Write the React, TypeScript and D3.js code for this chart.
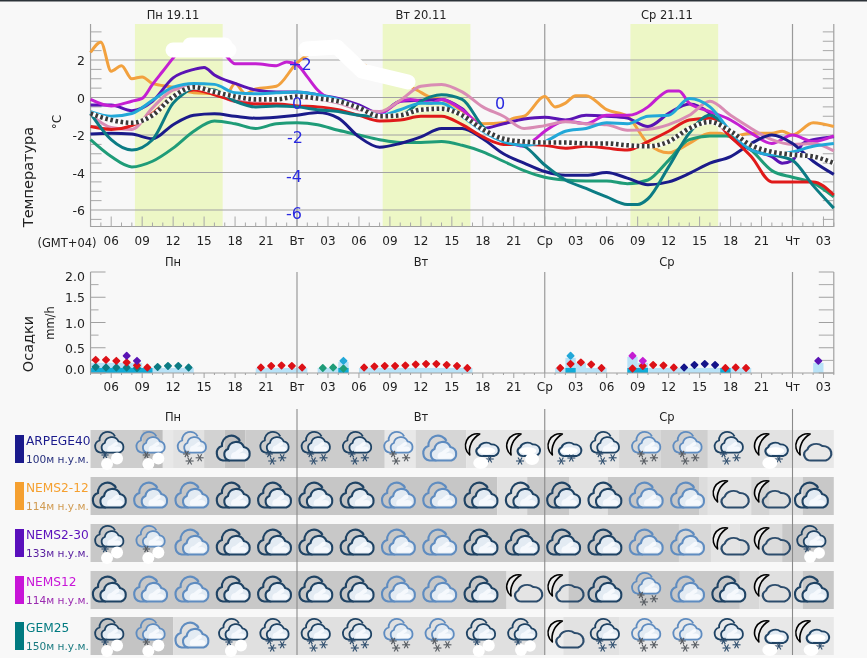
import React from "react";
import * as d3 from "d3";

type P = [number, number];
const evenHours = d3.range(4, 77, 2);
const zip = (vals: number[]): P[] => vals.map((v, i) => [evenHours[i], v]);

// ---------- temperature series (°C) ----------
const navyTemps = [-1.95,-1.9,-1.95,-2.2,-1.45,-0.95,-0.87,-1,-1.1,-1.05,-0.95,-0.8,-1.1,-2.1,-2.65,-2.45,-2.1,-1.65,-1.65,-2.2,-3,-3.5,-3.95,-4.15,-4.15,-4,-4.3,-4.65,-4.5,-4.05,-3.5,-3.15,-2.45,-2,-2.45,-3.4,-4.1];
const orangePts: P[] = [[4,2.4],[5,2.95],[6,1.4],[7,1.7],[8,1],[9,1.1],[10,0.75],[12,0.55],[14,0.25],[16,0.2],[17,0],[18,0.75],[19,0.2],[20,0.45],[22,0.6],[24,1.85],[25,2.25],[27,2.6],[31,1.6],[35.6,0.4],[37,0],[38,-0.1],[40,-0.7],[42,-1.4],[44,-1.35],[45,-1.1],[46,-1],[48,0.05],[49,-0.5],[50,-0.3],[51,0.1],[52,0.1],[54,-0.65],[56,-1],[58,-2.45],[60,-2.95],[62,-2.45],[64,-1.9],[65,-1.9],[66,-2.1],[68,-1.9],[70,-1.9],[71,-1.8],[72,-2],[74,-1.35],[76,-1.55]];
const magentaPts: P[] = [[4,-0.1],[6,-0.45],[8,-0.2],[9,-0.05],[10,0.7],[11,1.4],[12,2.1],[13,2.75],[15,2.9],[17,2.3],[18,1.8],[20,1.8],[22,1.7],[23,1.9],[24,1.75],[25,1.1],[26,0.4],[27,0],[28,-0.1],[30,-0.5],[32,-0.85],[34,-0.2],[35,-0.1],[37,-0.3],[38,-0.1],[40,-0.65],[42,-1.65],[44,-2.25],[46,-2.6],[47,-2.25],[48,-1.8],[50,-1.25],[52,-1.4],[54,-0.95],[56,-0.95],[58,-0.5],[59,0],[60,0.35],[61,0.35],[62,-0.3],[64,-0.75],[66,-1.2],[68,-1.9],[70,-2.45],[72,-2],[74,-2.35],[76,-2.05]];
const purplePts: P[] = [[4,-0.4],[6,-0.4],[8,-0.7],[10,-0.2],[12,1.05],[14,1.5],[15,1.6],[16,1.2],[18,0.75],[20,0.4],[22,0.3],[24,0.3],[26,0.15],[28,-0.05],[30,-0.4],[32,-0.85],[34,-0.2],[36,-0.15],[38,-0.1],[40,-0.6],[42,-1.65],[44,-1.4],[46,-1.15],[48,-1.05],[50,-1.2],[52,-0.95],[54,-1],[56,-1.1],[58,-1.55],[60,-0.85],[62,-0.35],[64,-0.85],[66,-2.1],[68,-2.8],[70,-3.15],[71,-3.5],[72,-3.35],[73,-2.45],[74,-2.25],[76,-2.1]];
const skyTemps = [-0.75,-1,-0.85,-0.15,0.55,0.75,0.7,0.25,0.2,0.25,0.3,0.15,-0.1,-0.5,-0.95,-0.65,-0.3,-0.3,-1,-1.8,-2.35,-2.55,-2.35,-1.8,-1.65,-1.35,-1.4,-1,-0.95,-0.05,-0.5,-1.8,-2.8,-3.05,-2.9,-2.6,-2.45];
const redTemps = [-1.55,-1.7,-1.5,-0.85,0.05,0.4,0.15,-0.2,-0.35,-0.35,-0.45,-0.5,-0.65,-0.95,-1.25,-1.2,-1,-1,-1.45,-2.1,-2.5,-2.5,-2.55,-2.7,-2.6,-2.7,-2.8,-2.35,-1.8,-1.2,-1.1,-2.1,-3.15,-4.5,-4.5,-4.5,-5.2];
const pinkTemps = [-0.9,-1.6,-1.7,-0.55,0.4,0.6,0.3,-0.2,-0.2,-0.1,0,-0.1,-0.3,-0.65,-0.75,-0.15,0.6,0.7,0.3,-0.5,-1,-1.65,-1.5,-1.3,-1.4,-1.45,-1.75,-1.7,-1.45,-0.95,-0.2,-0.95,-1.65,-2.25,-2.5,-2.45,-2.85];
const greenTemps = [-2.25,-3.15,-3.7,-3.4,-2.7,-1.8,-1.25,-1.4,-1.65,-1.4,-1.35,-1.45,-1.75,-2,-2.25,-2.4,-2.4,-2.35,-2.55,-2.9,-3.4,-3.9,-4.25,-4.4,-4.45,-4.45,-4.6,-4.4,-3.35,-2.25,-2.05,-2.05,-2.8,-3.9,-4.25,-4.55,-5.3];
const tealPts: P[] = [[4,-0.85],[6,-2.25],[8,-2.8],[10,-2.25],[12,-0.3],[13,0.2],[14,0.5],[16,0.4],[18,-0.2],[20,-0.5],[22,-0.45],[24,-0.5],[26,-0.65],[28,-0.75],[30,-0.95],[32,-1],[34,-0.95],[36,-0.2],[37,0.05],[38,0.15],[40,-0.1],[42,-1.55],[44,-2.35],[46,-2.6],[48,-3.6],[50,-4.4],[52,-4.85],[54,-5.3],[56,-5.7],[57,-5.7],[58,-5.4],[60,-3.7],[62,-1.9],[64,-0.95],[66,-1.8],[68,-2.8],[70,-3.05],[72,-3.35],[74,-4.7],[76,-5.9]];
const meanTemps = [-0.85,-1.2,-1.35,-0.95,0.05,0.55,0.3,0.05,-0.1,-0.1,0.05,-0.05,-0.2,-0.55,-1,-0.95,-0.65,-0.6,-0.95,-1.7,-2.2,-2.35,-2.4,-2.4,-2.45,-2.45,-2.55,-2.6,-2.35,-1.65,-1.3,-1.8,-2.55,-2.9,-3.05,-3.15,-3.5];

const tempSeries: { pts: P[]; color: string }[] = [
  { pts: orangePts, color: "#f2a13e" },
  { pts: purplePts, color: "#5a14b4" },
  { pts: magentaPts, color: "#c41fd2" },
  { pts: zip(pinkTemps), color: "#d98cb4" },
  { pts: zip(greenTemps), color: "#1f9c78" },
  { pts: zip(navyTemps), color: "#1b1b8a" },
  { pts: zip(redTemps), color: "#e01a1a" },
  { pts: tealPts, color: "#0c7c84" },
  { pts: zip(skyTemps), color: "#22a8d8" },
];

// ---------- precipitation ----------
const lightBars: [number, number, number][] = [[4,9,0.2],[9,14,0.1],[20,25,0.1],[26,28,0.1],[28,29,0.22],[30,41,0.1],[49,50,0.1],[50,51,0.3],[51,52,0.2],[52,54,0.1],[56,57,0.32],[57,58,0.2],[58,68,0.1],[74,75,0.2]];
const darkBars: [number, number, number][] = [[4,10,0.1],[28,29,0.1],[50,51,0.1],[56,58,0.1],[65,66,0.1]];
const redDots: P[] = [[4.5,.26],[5.5,.26],[6.5,.24],[7.5,.21],[8.5,.15],[9.5,.11],[20.5,.11],[21.5,.14],[22.5,.15],[23.5,.14],[24.5,.11],[30.5,.11],[31.5,.13],[32.5,.14],[33.5,.14],[34.5,.15],[35.5,.17],[36.5,.18],[37.5,.18],[38.5,.16],[39.5,.14],[40.5,.1],[49.5,.1],[50.5,.18],[51.5,.21],[52.5,.17],[53.5,.1],[56.5,.09],[57.5,.14],[58.5,.16],[59.5,.15],[60.5,.11],[65.5,.1],[66.5,.11],[67.5,.1]];
const tealDots: P[] = [[4.5,.12],[5.5,.11],[6.5,.11],[7.5,.11],[8.5,.1],[10.5,.12],[11.5,.14],[12.5,.14],[13.5,.11]];
const purpleDots: P[] = [[7.5,.34],[8.5,.24],[74.5,.24]];
const greenDots: P[] = [[26.5,.1],[27.5,.11],[28.5,.09]];
const skyDots: P[] = [[28.5,.24],[50.5,.34]];
const magentaDots: P[] = [[56.5,.34],[57.5,.24]];
const navyDots: P[] = [[61.5,.11],[62.5,.16],[63.5,.18],[64.5,.16]];

// ---------- meteogram rows ----------
const rowNames = ["ARPEGE40", "NEMS2-12", "NEMS2-30", "NEMS12", "GEM25"];
const rowHeights = ["100м н.у.м.", "114м н.у.м.", "133м н.у.м.", "114м н.у.м.", "150м н.у.м."];
const rowColors = ["#1a1a8c", "#f5a030", "#5a10bc", "#c815d8", "#007a80"];
const rowSubColors = ["#27307e", "#d09a50", "#5a20a0", "#9a2ab0", "#1a7a80"];
// icon codes: D dark cloud, M mid cloud, s with snow, b snow under white patches,
// n moon with bare cloud, ns moon + snow, nb / nr moon + snow + white patch
const rowIcons = [
  ["Db","Mb","Ms","D","Ds","Ds","Ds","Ms","M","nb","nr","ns","Ds","Ms","Ms","Ds","nb","n"],
  ["D","M","M","D","D","D","D","M","M","D","D","D","D","M","M","n","n","D"],
  ["Db","Mb","M","D","D","D","D","M","M","D","D","D","D","M","M","n","n","Dc"],
  ["D","M","M","D","D","D","D","M","M","D","n","n","D","Ms","M","D","n","D"],
  ["Db","Mb","M","Db","Ds","Ds","Ds","Ms","Ms","Db","Dc","n","Ds","Ms","Ms","Ds","nb","nb"],
];
// shading cells: hour where each grey starts, and its grey level
const rowShades: P[][] = [
  [[4,205],[9,190],[11,232],[12,226],[15,210],[17,192],[19,204],[32.5,232],[35.5,214],[40.4,230],[55.2,216],[59.2,207],[63.8,226],[72,232]],
  [[4,198],[43.4,224],[46.3,200],[50.4,224],[54.1,200],[63,220],[63.8,228],[68,212],[69.8,224],[73,200]],
  [[4,200],[61,216],[64.1,228],[66.9,220],[71,200]],
  [[4,200],[44.3,228],[50.3,200],[66.9,216],[68.8,224],[73,200]],
  [[4,196],[12,224],[48,238],[49.8,226],[55.2,232]],
];

const rowTops = [430, 477, 524, 571, 617];
const rowH = 38;

// ---------- scales ----------
const x = d3.scaleLinear().domain([24, 72]).range([297, 792.5]);
const yT = d3.scaleLinear().domain([2, -6]).range([60, 210]);
const yP = d3.scaleLinear().domain([0, 2]).range([373, 272]);
const x0 = x(4), x1 = x(76);
const tempTop = 24, tempBottom = 226.5;

const hourTicks = d3.range(4, 77);
const labelledHours = d3.range(6, 76, 3);
const hourLabel = (h: number) => {
  if (h === 24) return "Вт";
  if (h === 48) return "Ср";
  if (h === 72) return "Чт";
  return d3.format("02")(h % 24);
};
const tempGrid = [2, 0, -2, -4, -6];
const tempMinor = d3.range(-6.5, 4, 0.5).filter((v) => !tempGrid.includes(v));
const precipMajor = [0, 0.5, 1, 1.5, 2];
const precipMinor = [0.25, 0.75, 1.25, 1.75];
const dayLines = [24, 48, 72];
const dayBands: P[] = [[8.3, 16.8], [32.3, 40.8], [56.3, 64.8]];
const dayTitles: [string, string, number][] = [["Пн 19.11", "Пн", 173], ["Вт 20.11", "Вт", 421], ["Ср 21.11", "Ср", 667]];
const overlayLabels: [string, number, number][] = [["+2", 300, 70], ["0", 297, 109], ["-2", 295, 143], ["-4", 294, 182], ["-6", 294, 219], ["0", 500, 109]];

const lineGen = d3.line<P>().x((d) => x(d[0])).y((d) => yT(d[1])).curve(d3.curveMonotoneX);
const dotShape = d3.symbol().type(d3.symbolSquare).size(20)() as string;
const FONT = "'DejaVu Sans', sans-serif";

const backCloud = "M-3 11.5H-10A7.5 7.5 0 0 1-11 -3A9.5 9.5 0 0 1 7 -8";
const frontCloud = "M-3 11.5A6 6 0 0 1-5 0A8.4 8.4 0 0 1 11 -2A7 7 0 0 1 12 11.5Z";
const plainCloud = "M-1 12.5A6 6 0 0 1-5 1.5A8 8 0 0 1 8 -2A7.5 7.5 0 0 1 11 12.5Z";
const moon = "M-1 -15A12 12 0 0 0-11 6A20 20 0 0 1-1 -15Z";

const Star = ({ cx, cy, r, color }: { cx: number; cy: number; r: number; color: string }) => (
  <g stroke={color} strokeWidth={1.1}>
    {[0, 60, 120].map((a) => {
      const dx = r * Math.cos((a * Math.PI) / 180), dy = r * Math.sin((a * Math.PI) / 180);
      return <line key={a} x1={cx - dx} y1={cy - dy} x2={cx + dx} y2={cy + dy} />;
    })}
  </g>
);

const FullCloud = ({ color, white }: { color: string; white: string }) => (
  <g fill="none" stroke={color} strokeWidth={2.1}>
    <path d={backCloud} />
    <path d={frontCloud} fill="#e3ebf3" />
    <path d="M-2 8Q-2 3.5 2 3L7 -1Q11 -2 10 2L6 4.5Q13 3 14 7Q14 9.5 10 9.6L0 9.8Q-2 9.8 -2 8Z" fill={white} stroke="none" />
  </g>
);

const Icon = ({ code, cx, cy }: { code: string; cx: number; cy: number }) => {
  const moonIcon = code[0] === "n";
  const color = code[0] === "M" ? "#5f8cc0" : "#1f4364";
  const kind = code[1];
  const starColor = code[0] === "M" ? "#555a60" : "#2c4c6c";
  if (moonIcon) {
    const shrink = kind !== undefined;
    return (
      <g transform={`translate(${cx},${cy})`}>
        {!shrink && <path d={plainCloud} fill="none" stroke="#2c4c6c" strokeWidth={1.9} transform="translate(2,-1) scale(1.15,1)" />}
        {shrink && (
          <g transform="translate(3,-3) scale(0.95,0.8)">
            <path d={plainCloud} fill="#e3ebf3" stroke="#1f4364" strokeWidth={2.2} />
            <ellipse cx={3} cy={6} rx={9} ry={4.5} fill="#fff" />
          </g>
        )}
        <path d={moon} fill="#eeeeee" stroke="#000" strokeWidth={1.6} strokeLinejoin="round" />
        {kind === "s" && (<><Star cx={-2} cy={12} r={4} color={starColor} /><Star cx={8} cy={9} r={4} color={starColor} /></>)}
        {kind === "b" && (<><Star cx={9} cy={10} r={4} color={starColor} /><ellipse cx={0} cy={14} rx={7.5} ry={6} fill="#fff" /></>)}
        {kind === "r" && (<><Star cx={-2} cy={12} r={4} color={starColor} /><ellipse cx={10} cy={10} rx={7} ry={6} fill="#fff" /></>)}
      </g>
    );
  }
  const small = kind !== undefined;
  return (
    <g transform={`translate(${cx},${cy})`}>
      {small ? (
        <g transform="translate(0,-6) scale(0.86,0.84)">
          <FullCloud color={color} white="#f6f9fd" />
        </g>
      ) : (
        <FullCloud color={color} white="#f6f9fd" />
      )}
      {kind === "s" && (<><Star cx={-5} cy={5} r={3.6} color={starColor} /><Star cx={-2} cy={12} r={4} color={starColor} /><Star cx={8} cy={8.8} r={4} color={starColor} /></>)}
      {kind === "b" && (<><Star cx={-4} cy={6} r={3.6} color={starColor} /><circle cx={-2} cy={15} r={6} fill="#fff" /><circle cx={8} cy={9.5} r={6} fill="#fff" /></>)}
      {kind === "c" && (<><Star cx={-4} cy={6} r={3.6} color={starColor} /><circle cx={-1} cy={14} r={6} fill="#fff" /><circle cx={8} cy={10} r={5.8} fill="#fff" /></>)}
    </g>
  );
};

const Dots = ({ data, color }: { data: P[]; color: string }) => (
  <g fill={color} stroke={color} strokeWidth={1.6} strokeLinejoin="round">
    {data.map((d, i) => (
      <path key={i} d={dotShape} transform={`translate(${x(d[0])},${yP(d[1])}) rotate(45)`} />
    ))}
  </g>
);

export default function App() {
  return (
    <svg
      width={867}
      height={658}
      viewBox="0 0 867 658"
      style={{ position: "fixed", left: 0, top: 0, filter: "blur(0.45px)" }}
      fontFamily={FONT}
    >
      <rect width={867} height={658} fill="#f8f8f8" />
      <rect width={867} height={1.5} fill="#2c3238" />

      {/* day titles */}
      {dayTitles.map(([t, s, cx]) => (
        <g key={t} textAnchor="middle" fill="#222">
          <text x={cx} y={19} fontSize={11.5}>{t}</text>
          <text x={cx} y={266} fontSize={11.5}>{s}</text>
          <text x={cx} y={421} fontSize={11.5}>{s}</text>
        </g>
      ))}

      {/* temperature panel */}
      {dayBands.map(([a, b]) => (
        <rect key={a} x={x(a)} y={tempTop} width={x(b) - x(a)} height={tempBottom - tempTop} fill="#edf7c6" />
      ))}
      {tempGrid.map((v) => (
        <line key={v} x1={x0} x2={x1} y1={yT(v)} y2={yT(v)} stroke="#a2a2a2" strokeWidth={1.2} />
      ))}
      {tempMinor.map((v) => (
        <g key={v} stroke="#a8a8a8" strokeWidth={1}>
          <line x1={x0} x2={x0 + 11} y1={yT(v)} y2={yT(v)} />
          <line x1={x1 - 11} x2={x1} y1={yT(v)} y2={yT(v)} />
        </g>
      ))}
      {dayLines.map((h) => (
        <line key={h} x1={x(h)} x2={x(h)} y1={tempTop} y2={tempBottom} stroke="#9a9a9a" strokeWidth={1.2} />
      ))}
      <path d={`M${x0} ${tempTop}V${tempBottom}H${x1}V${tempTop}`} fill="none" stroke="#a0a0a0" strokeWidth={1.2} />
      {hourTicks.map((h) => (
        <line key={h} x1={x(h)} x2={x(h)} y1={tempBottom} y2={tempBottom - (h % 3 === 0 ? 10 : 4)} stroke="#a8a8a8" />
      ))}
      {tempSeries.map((s) => (
        <path key={s.color} d={lineGen(s.pts) as string} fill="none" stroke={s.color} strokeWidth={3} strokeLinejoin="round" />
      ))}
      <path d={lineGen(zip(meanTemps)) as string} fill="none" stroke="#ffffff" strokeWidth={4.6} />
      <path d={lineGen(zip(meanTemps)) as string} fill="none" stroke="#3a3a3a" strokeWidth={4.6} strokeDasharray="2.6 2.6" />

      {/* white patches over the reference chart */}
      <g fill="none" stroke="#fff" strokeLinecap="round" strokeLinejoin="round">
        <path d="M173 50H229" strokeWidth={15} />
        <path d="M190 45H225" strokeWidth={15} />
        <path d="M306 49L337 47L362 71L408 82" strokeWidth={15} />
      </g>
      {overlayLabels.map(([t, px, py], i) => (
        <text key={i} x={px} y={py} textAnchor="middle" fontSize={16} fill="#2a2ae0">{t}</text>
      ))}

      {tempGrid.map((v) => (
        <text key={v} x={85} y={yT(v) + 5} textAnchor="end" fontSize={12.5} fill="#222">{v}</text>
      ))}
      {labelledHours.map((h) => (
        <text key={h} x={x(h)} y={245} textAnchor="middle" fontSize={12} fill="#222">{hourLabel(h)}</text>
      ))}
      <text x={67} y={247} textAnchor="middle" fontSize={11.5} fill="#222">(GMT+04)</text>
      <text transform="translate(33,177) rotate(-90)" textAnchor="middle" fontSize={14.5} fill="#222">Температура</text>
      <text transform="translate(61,122) rotate(-90)" textAnchor="middle" fontSize={12} fill="#222">°C</text>

      {/* precipitation panel */}
      {lightBars.map(([a, b, v], i) => (
        <rect key={i} x={x(a)} width={x(b) - x(a)} y={yP(v)} height={yP(0) - yP(v)} fill="#b8e2f7" />
      ))}
      {darkBars.map(([a, b, v], i) => (
        <rect key={i} x={x(a)} width={x(b) - x(a)} y={yP(v)} height={yP(0) - yP(v)} fill="#10acd8" />
      ))}
      {dayLines.map((h) => (
        <line key={h} x1={x(h)} x2={x(h)} y1={272} y2={373} stroke="#9a9a9a" strokeWidth={1.2} />
      ))}
      <path d={`M${x0} 272V373H${x1}V272`} fill="none" stroke="#a0a0a0" strokeWidth={1.2} />
      {precipMajor.map((v) => (
        <g key={v} stroke="#a0a0a0">
          <line x1={x0} x2={x0 + 15} y1={yP(v)} y2={yP(v)} />
          <line x1={x1 - 15} x2={x1} y1={yP(v)} y2={yP(v)} />
        </g>
      ))}
      {precipMinor.map((v) => (
        <g key={v} stroke="#a8a8a8">
          <line x1={x0} x2={x0 + 8} y1={yP(v)} y2={yP(v)} />
          <line x1={x1 - 15} x2={x1} y1={yP(v)} y2={yP(v)} />
        </g>
      ))}
      {hourTicks.map((h) => (
        <line key={h} x1={x(h)} x2={x(h)} y1={373} y2={h % 3 === 0 ? 378 : 375} stroke="#a0a0a0" />
      ))}
      <Dots data={tealDots} color="#0c7c84" />
      <Dots data={redDots} color="#dc1218" />
      <Dots data={purpleDots} color="#5a14b4" />
      <Dots data={greenDots} color="#1f9c78" />
      <Dots data={skyDots} color="#22a8d8" />
      <Dots data={magentaDots} color="#c41fd2" />
      <Dots data={navyDots} color="#14148a" />
      {precipMajor.map((v) => (
        <text key={v} x={85} y={yP(v) + (v === 0 ? 1 : v === 2 ? 9 : 5)} textAnchor="end" fontSize={12.5} fill="#222">{v.toFixed(1)}</text>
      ))}
      {labelledHours.map((h) => (
        <text key={h} x={x(h)} y={391} textAnchor="middle" fontSize={12} fill="#222">{hourLabel(h)}</text>
      ))}
      <text transform="translate(33,344) rotate(-90)" textAnchor="middle" fontSize={14.5} fill="#222">Осадки</text>
      <text transform="translate(54,323) rotate(-90)" textAnchor="middle" fontSize={11.5} fill="#222">mm/h</text>

      {/* meteogram */}
      {rowNames.map((name, r) => (
        <g key={name}>
          {rowShades[r].map(([h, g], i) => {
            const next = i + 1 < rowShades[r].length ? rowShades[r][i + 1][0] : 76;
            return <rect key={i} x={x(h)} width={Math.max(0, x(next) - x(h))} y={rowTops[r]} height={rowH} fill={`rgb(${g},${g},${g})`} />;
          })}
          <rect x={15} y={rowTops[r] + 5} width={9} height={28} fill={rowColors[r]} />
          <text x={26} y={rowTops[r] + 15} fontSize={12.2} fill={rowColors[r]}>{name}</text>
          <text x={26} y={rowTops[r] + 33} fontSize={10.6} fill={rowSubColors[r]} fontWeight={500}>{rowHeights[r]}</text>
          {rowIcons[r].map((c, i) => (
            <Icon key={i} code={c} cx={x(4) + 18.5 + i * 41.3} cy={rowTops[r] + 19} />
          ))}
        </g>
      ))}
      {dayLines.map((h) => (
        <line key={h} x1={x(h)} x2={x(h)} y1={409} y2={655} stroke="#8a8a8a" strokeWidth={1.1} />
      ))}
    </svg>
  );
}
